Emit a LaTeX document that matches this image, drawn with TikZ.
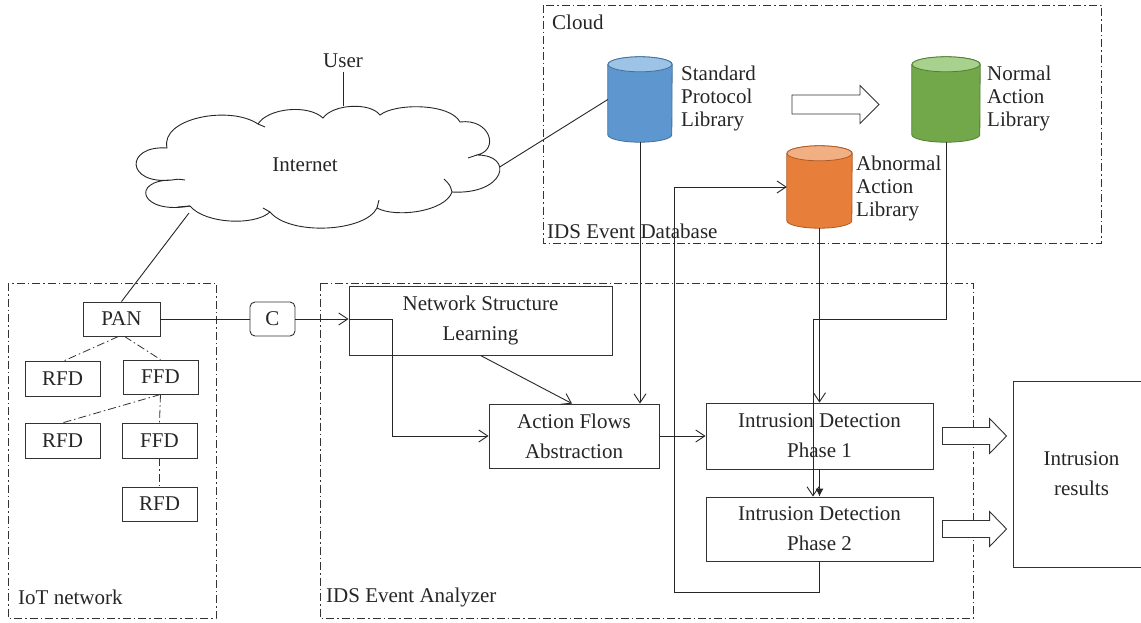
\documentclass[tikz,border=0pt]{standalone}
\usepackage{fontspec}
\setmainfont{Liberation Serif}
\usetikzlibrary{arrows.meta,calc}
\definecolor{bluebody}{HTML}{5E97CF}
\definecolor{bluetop}{HTML}{9DC3E6}
\definecolor{blueedge}{HTML}{41719C}
\definecolor{greenbody}{HTML}{72A84A}
\definecolor{greentop}{HTML}{A9D18E}
\definecolor{greenedge}{HTML}{507E32}
\definecolor{orangebody}{HTML}{E77F3B}
\definecolor{orangetop}{HTML}{F1B084}
\definecolor{orangeedge}{HTML}{B05A22}
\tikzset{
  every node/.style={font=\fontsize{21}{30}\selectfont, text=black!85},
  box/.style={draw=black!80, line width=0.9pt, inner sep=0pt, align=center},
  dd/.style={draw=black!80, line width=0.8pt, dash pattern=on 8pt off 3pt on 1.5pt off 3pt},
  conn/.style={line width=0.9pt, draw=black!85},
  arr/.style={conn, -{Straight Barb[length=9pt,width=12pt]}},
  lbl/.style={anchor=west, inner sep=0pt},
  dblbl/.style={anchor=west, inner sep=0pt, align=left, font=\fontsize{21}{23}\selectfont},
  hollow/.style={draw=black!80, line width=0.9pt, fill=white},
}
\newcommand\dbcyl[5]{%
  \filldraw[fill=#3, draw=#5, line width=0.8pt]
    ([yshift=-7.5pt]#1.north west) -- ([yshift=7.5pt]#1.south west)
    arc[start angle=180, end angle=360, x radius=#2pt, y radius=7.5pt]
    -- ([yshift=-7.5pt]#1.north east)
    arc[start angle=0, end angle=180, x radius=#2pt, y radius=7.5pt] -- cycle;
  \filldraw[fill=#4, draw=#5, line width=0.8pt]
    ([yshift=-7.5pt]#1.north) ellipse[x radius=#2pt, y radius=7.5pt];
}
\newcommand\blockarr[5]{%
  \draw[hollow] let \p1=(#1), \p2=(#2) in
    (\x1,\y1+#3) -- (\x2-#5,\y1+#3) -- (\x2-#5,\y1+#4) -- (\x2,\y1)
    -- (\x2-#5,\y1-#4) -- (\x2-#5,\y1-#3) -- (\x1,\y1-#3) -- cycle;
}
\begin{document}
\begin{tikzpicture}[x=1pt,y=-1pt]
\useasboundingbox (0,0) rectangle (1141,622);
\fill[white] (0,0) rectangle (1141,622);

% group frames
\draw[dd] (543,5) rectangle (1101,243);
\draw[dd] (8,283) rectangle (216,618);
\draw[dd] (320,283) rectangle (973,618);
\node[lbl] (lcloud) at (552,22) {Cloud};
\node[lbl] (ldb) at (547,231) {IDS Event Database};
\node[lbl] (liot) at (18,597) {IoT network};
\node[lbl] (lana) at (326,597) {IDS Event Analyzer};

% internet cloud
\node[minimum width=367pt, minimum height=121pt, inner sep=0pt] (cloud) at (316,167) {};
\draw[conn, fill=white]
  (167,148) .. controls (160,118) and (230,105) .. (258,124)
  .. controls (268,108) and (308,104) .. (323,118)
  .. controls (333,104) and (370,102) .. (380,115)
  .. controls (395,103) and (450,103) .. (460,122)
  .. controls (490,118) and (500,150) .. (477,155)
  .. controls (515,155) and (505,195) .. (452,192)
  .. controls (445,212) and (395,218) .. (377,208)
  .. controls (365,232) and (290,236) .. (270,212)
  .. controls (255,226) and (205,224) .. (190,206)
  .. controls (140,215) and (130,180) .. (172,180)
  .. controls (125,185) and (125,145) .. (167,148) -- cycle;
\draw[conn] (258,124) .. controls (262,125) .. (265,127);
\draw[conn] (477,155) .. controls (472,157) .. (468,158);
\draw[conn] (452,192) .. controls (450,185) .. (444,179);
\draw[conn] (377,208) .. controls (378,204) .. (379,200);
\draw[conn] (270,212) .. controls (266,210) .. (263,208);
\draw[conn] (190,206) .. controls (184,206) .. (178,207);
\draw[conn] (172,180) .. controls (178,179) .. (185,180);
\node (inet) at (305,165) {Internet};
\node (user) at (343,61) {User};

% IoT nodes
\node[box, minimum width=77pt, minimum height=34pt] (PAN) at (121.5,319) {PAN};
\node[box, minimum width=75pt, minimum height=35pt] (RFD1) at (62.5,378.5) {RFD};
\node[box, minimum width=75pt, minimum height=34pt] (FFD1) at (160.5,377) {FFD};
\node[box, minimum width=75pt, minimum height=35pt] (RFD2) at (62.5,440.5) {RFD};
\node[box, minimum width=75pt, minimum height=35pt] (FFD2) at (159.5,440.5) {FFD};
\node[box, minimum width=75pt, minimum height=34pt] (RFD3) at (159.5,504) {RFD};
\node[box, rounded corners=5pt, minimum width=45pt, minimum height=34pt] (C) at (272.5,319) {C};

% analyzer nodes
\node[box, minimum width=263pt, minimum height=69pt] (NSL) at (480.5,320.5) {Network Structure\\Learning};
\node[box, minimum width=170pt, minimum height=64pt] (AFA) at (574,436) {Action Flows\\Abstraction};
\node[box, minimum width=227pt, minimum height=66pt] (P1) at (819.5,436) {Intrusion Detection\\Phase 1};
\node[box, minimum width=227pt, minimum height=64pt] (P2) at (819.5,529) {Intrusion Detection\\Phase 2};
\node[box, minimum width=137pt, minimum height=186pt] (RES) at (1081.5,474) {Intrusion\\results};

% databases
\node[minimum width=64pt, minimum height=85pt, inner sep=0pt] (blue) at (640,99.5) {};
\node[minimum width=68pt, minimum height=85pt, inner sep=0pt] (green) at (946,99.5) {};
\node[minimum width=65pt, minimum height=82pt, inner sep=0pt] (orange) at (819.5,187) {};
\dbcyl{blue}{32}{bluebody}{bluetop}{blueedge}
\dbcyl{green}{34}{greenbody}{greentop}{greenedge}
\dbcyl{orange}{32.5}{orangebody}{orangetop}{orangeedge}
\node[dblbl] (tblue) at (681,98) {Standard\\Protocol\\Library};
\node[dblbl] (tgreen) at (987,98) {Normal\\Action\\Library};
\node[dblbl] (torange) at (856,188) {Abnormal\\Action\\Library};

% coordinates for bends
\coordinate (k1) at (392,319);
\coordinate (k2) at (813,319);
\coordinate (k3) at (674,592);
\coordinate (sa) at (792,104.5);
\coordinate (sb) at (879,104.5);

% connectors
\draw[conn] (user.south) -- (user.south |- cloud.north);
\draw[conn] (cloud.east) -- (blue.west);
\draw[conn] ([xshift=-127pt,yshift=-46pt]cloud.center) -- (PAN.north);
\draw[dd] ([xshift=-3pt]PAN.south) -- ([xshift=2pt]RFD1.north);
\draw[dd] ([xshift=3pt]PAN.south) -- (FFD1.north);
\draw[dd] (FFD1.south) -- ([xshift=1pt]RFD2.north);
\draw[dd] (FFD1.south) -- (FFD2.north);
\draw[dd] (FFD2.south) -- (RFD3.north);
\draw[conn] (PAN.east) -- (C.west);
\draw[arr] (C.east) -- (NSL.west |- C.east);
\draw[arr] (NSL.west |- C.east) -- (k1) |- (AFA.west);
\draw[arr] (NSL.south) -- ([xshift=-2pt]AFA.north);
\draw[arr] (blue.south) -- (blue.south |- AFA.north);
\draw[arr] (AFA.east) -- (P1.west);
\draw[arr] (orange.south) -- (P1.north);
\draw[arr] (green.south) |- (k2) -- (k2 |- P2.north);
\draw[conn, -{Latex[length=8pt,width=8pt]}] (P1.south) -- (P2.north);
\draw[arr] (P2.south) |- (k3) |- (orange.west);

% block arrows
\blockarr{sa}{sb}{9.5pt}{19pt}{19pt}
\blockarr{[xshift=9pt]P1.east}{[xshift=-6pt]RES.west}{8.5pt}{17.5pt}{17pt}
\blockarr{[xshift=9pt]P2.east}{[xshift=-6pt]RES.west}{8.5pt}{17.5pt}{17pt}
\end{tikzpicture}
\end{document}
